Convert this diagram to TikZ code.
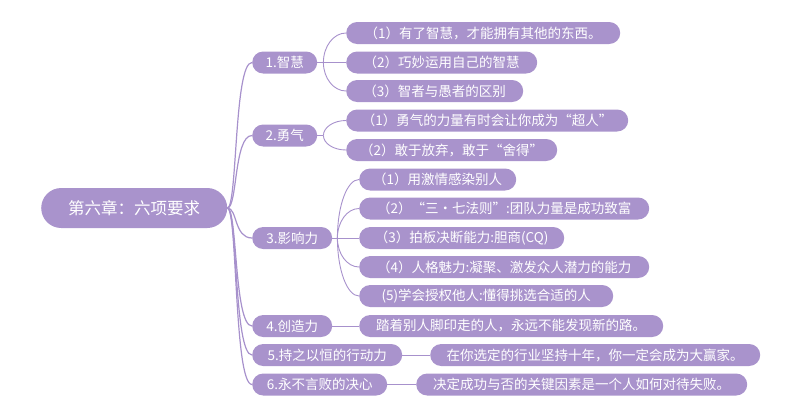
\documentclass[tikz,border=0pt]{standalone}
\usepackage{fontspec}
\setmainfont{Noto Sans CJK SC}
\usetikzlibrary{calc}
\definecolor{nodefill}{HTML}{A993CC}
\definecolor{linecol}{HTML}{A791CC}
\tikzset{
  base/.style={rectangle, fill=nodefill, text=white, inner sep=0pt, anchor=west, minimum height=22pt, rounded corners=11pt, font=\fontsize{13.5pt}{15pt}\selectfont},
  rootnode/.style={base, minimum height=40pt, rounded corners=20pt, font=\fontsize{16.5pt}{19pt}\selectfont},
  lvone/.style={base},
  lvtwo/.style={base},
  link/.style={draw=linecol, line width=0.9pt},
  rootlink/.style={draw=linecol, line width=1.2pt},
}
\newcommand{\rootcurve}[2]{\draw[rootlink] (#1) .. controls ($(#1)+(10,0)$) and ($(#2)+(-18,0)$) .. (#2);}
\newcommand{\kidcurve}[2]{\draw[link] (#1) .. controls ($(#1)!0.55!(#1 |- #2)$) and ($(#2)!0.55!(#1 |- #2)$) .. (#2);}
\begin{document}
\begin{tikzpicture}[x=1pt, y=-1pt]
\useasboundingbox (0,0) rectangle (800,416);
% root
\node[rootnode, minimum width=186pt] (r) at (41,208) {第六章：六项要求};
% level one
\node[lvone, minimum width=65pt] (L1) at (252,62.5) {1.智慧};
\node[lvone, minimum width=65pt] (L2) at (252,135.5) {2.勇气};
\node[lvone, minimum width=80pt] (L3) at (252,238) {3.影响力};
\node[lvone, minimum width=80pt] (L4) at (252,326) {4.创造力};
\node[lvone, minimum width=150pt] (L5) at (252,355) {5.持之以恒的行动力};
\node[lvone, minimum width=135pt] (L6) at (252,384.5) {6.永不言败的决心};
% level two
\node[lvtwo, minimum width=274pt] (a1) at (346,33) {（1）有了智慧，才能拥有其他的东西。};
\node[lvtwo, minimum width=191pt] (a2) at (346,62.5) {（2）巧妙运用自己的智慧};
\node[lvtwo, minimum width=177pt] (a3) at (346,91) {（3）智者与愚者的区别};
\node[lvtwo, minimum width=282pt] (b1) at (346,120.5) {（1）勇气的力量有时会让你成为“超人”};
\node[lvtwo, minimum width=211pt] (b2) at (346,150) {（2）敢于放弃，敢于“舍得”};
\node[lvtwo, minimum width=157pt] (c1) at (359,179.5) {（1）用激情感染别人};
\node[lvtwo, minimum width=290pt] (c2) at (359,208.5) {（2）“三・七法则”:团队力量是成功致富};
\node[lvtwo, minimum width=205pt] (c3) at (359,238) {（3）拍板决断能力:胆商(CQ)};
\node[lvtwo, minimum width=290pt] (c4) at (359,267) {（4）人格魅力:凝聚、激发众人潜力的能力};
\node[lvtwo, minimum width=254pt] (c5) at (359,296) {(5)学会授权他人:懂得挑选合适的人};
\node[lvtwo, minimum width=304pt] (d1) at (359,326) {踏着别人脚印走的人，永远不能发现新的路。};
\node[lvtwo, minimum width=330pt] (e1) at (430,355) {在你选定的行业坚持十年，你一定会成为大赢家。};
\node[lvtwo, minimum width=331pt] (f1) at (416,384.5) {决定成功与否的关键因素是一个人如何对待失败。};
% root links
\foreach \n in {L1,L2,L3,L4,L5,L6}{\rootcurve{r.east}{\n.west}}
% stubs
\coordinate (s1) at ($(L1.east)+(6,0)$);
\coordinate (s2) at ($(L2.east)+(6,0)$);
\coordinate (s3) at ($(L3.east)+(5,0)$);
\draw[link] (L1.east) -- (a2.west);
\kidcurve{s1}{a1.west}
\kidcurve{s1}{a3.west}
\draw[link] (L2.east) -- (s2);
\kidcurve{s2}{b1.west}
\kidcurve{s2}{b2.west}
\draw[link] (L3.east) -- (c3.west);
\kidcurve{s3}{c1.west}
\kidcurve{s3}{c2.west}
\kidcurve{s3}{c4.west}
\kidcurve{s3}{c5.west}
\draw[link] (L4.east) -- (d1.west);
\draw[link] (L5.east) -- (e1.west);
\draw[link] (L6.east) -- (f1.west);
\end{tikzpicture}
\end{document}
